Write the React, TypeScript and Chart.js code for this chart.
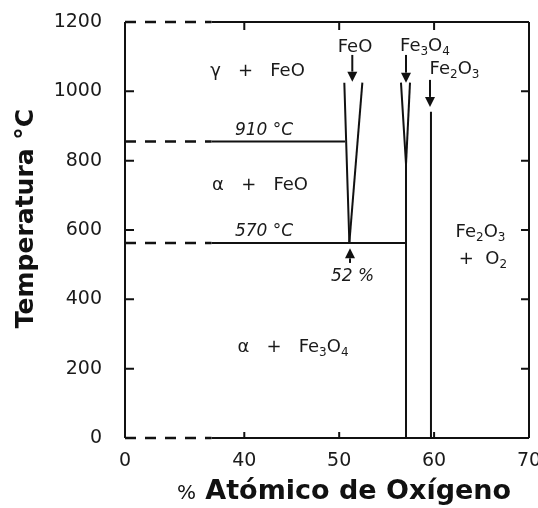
import React, { useEffect, useLayoutEffect, useRef } from "react";
import { Chart, registerables } from "chart.js";

Chart.register(...registerables);

// ---------- axes ----------
const xTickValues = [0, 40, 50, 60, 70];
const xTickLabels = ["0", "40", "50", "60", "70"];
const yTickValues = [0, 200, 400, 600, 800, 1000, 1200];
const xInnerTicks = [40, 50, 60];
const yInnerTicks = [200, 400, 600, 800, 1000];
const X_MAX = 70;
const Y_MAX = 1200;
// broken x axis: 0–40 % is compressed
const BREAK_AT = 40;
const BREAK_AXIS_START = 27.43;
const DASH_END = 29; // end of the dashed (broken) part of the horizontal lines

// ---------- phase boundaries (x: % atómico O, y: °C) ----------
const isothermT = [855, 562.5]; // 910 °C and 570 °C lines as drawn
const isothermEnd = [50.61, 57.04];
const feoLeftX = [50.54, 51.07];
const feoLeftT = [1025, 563];
const feoRightX = [52.44, 51.07];
const feoRightT = [1025, 563];
const fe3o4LeftX = [56.51, 57.04, 57.04];
const fe3o4LeftT = [1025, 790, 0];
const fe3o4RightX = [57.46, 57.04];
const fe3o4RightT = [1025, 790];
const fe2o3X = [59.67, 59.67];
const fe2o3T = [941, 0];

// ---------- annotations ----------
const labelTexts = [
  "γ   +   FeO",
  "α   +   FeO",
  "α   +   Fe_3O_4",
  "910 °C",
  "570 °C",
  "52 %",
  "FeO",
  "Fe_3O_4",
  "Fe_2O_3",
  "Fe_2O_3",
  "+  O_2",
];
const labelX = [41.39, 41.66, 45.13, 42.08, 42.08, 51.4, 51.67, 59.04, 62.15, 64.89, 65.15];
const labelT = [1064, 735.6, 268, 893, 600, 470, 1133.6, 1136.5, 1070, 600, 522];
const labelItalic = [false, false, false, true, true, true, false, false, false, false, false];
const arrowX = [51.38, 57.04, 59.57, 51.14];
const arrowFromT = [1105, 1105, 1033, 505];
const arrowToT = [1028, 1025, 955, 547];

const xTitleUnit = "%";
const xTitleText = " Atómico de Oxígeno";
const yTitleText = "Temperatura °C";

const INK = "#111";
const TXT = "#1a1a1a";
const FONT = '"DejaVu Sans", sans-serif';

const toAxis = (x: number) =>
  x >= BREAK_AT ? x : BREAK_AXIS_START + (x * (BREAK_AT - BREAK_AXIS_START)) / BREAK_AT;

function seg(xs: number[], ts: number[], dashed = false) {
  return {
    data: xs.map((x, i) => ({ x: toAxis(x), y: ts[i] })),
    borderColor: INK,
    borderWidth: dashed ? 2.5 : 2,
    borderDash: dashed ? [11, 9] : [],
    pointRadius: 0,
    fill: false,
    tension: 0,
    clip: false as any,
    showLine: true,
  };
}

function drawRich(ctx: CanvasRenderingContext2D, text: string, cx: number, cy: number, size: number, italic: boolean) {
  const segs: { t: string; sub: boolean }[] = [];
  for (let i = 0; i < text.length; i++) {
    const ch = text[i];
    if (ch === "_" && i + 1 < text.length) {
      segs.push({ t: text[i + 1], sub: true });
      i++;
    } else if (segs.length && !segs[segs.length - 1].sub) {
      segs[segs.length - 1].t += ch;
    } else {
      segs.push({ t: ch, sub: false });
    }
  }
  const st = italic ? "italic " : "";
  const main = `${st}${size}px ${FONT}`;
  const small = `${st}${Math.round(size * 0.68)}px ${FONT}`;
  let total = 0;
  const widths = segs.map((s) => {
    ctx.font = s.sub ? small : main;
    const w = ctx.measureText(s.t).width;
    total += w;
    return w;
  });
  let x = cx - total / 2;
  const base = cy + size * 0.3645;
  ctx.textAlign = "left";
  ctx.textBaseline = "alphabetic";
  segs.forEach((s, i) => {
    ctx.font = s.sub ? small : main;
    ctx.fillText(s.t, x, s.sub ? base + size * 0.22 : base);
    x += widths[i];
  });
}

const decorPlugin = {
  id: "decor",
  afterDatasetsDraw(chart: any) {
    const { ctx, chartArea: a, scales } = chart;
    const xs = scales.x;
    const ys = scales.y;
    ctx.save();
    ctx.strokeStyle = INK;
    ctx.fillStyle = INK;
    ctx.lineWidth = 2;
    // inner tick marks
    yInnerTicks.forEach((v) => {
      const py = ys.getPixelForValue(v);
      ctx.beginPath();
      ctx.moveTo(a.left, py);
      ctx.lineTo(a.left + 9, py);
      ctx.moveTo(a.right, py);
      ctx.lineTo(a.right - 8, py);
      ctx.stroke();
    });
    xInnerTicks.forEach((v) => {
      const px = xs.getPixelForValue(toAxis(v));
      ctx.beginPath();
      ctx.moveTo(px, a.bottom);
      ctx.lineTo(px, a.bottom - 6);
      ctx.moveTo(px, a.top);
      ctx.lineTo(px, a.top + 8);
      ctx.stroke();
    });
    // arrows
    arrowX.forEach((xv, i) => {
      const px = xs.getPixelForValue(toAxis(xv));
      const y0 = ys.getPixelForValue(arrowFromT[i]);
      const y1 = ys.getPixelForValue(arrowToT[i]);
      const dir = Math.sign(y1 - y0);
      const head = 10;
      const hw = 5;
      ctx.beginPath();
      ctx.moveTo(px, y0);
      ctx.lineTo(px, y1 - dir * head);
      ctx.stroke();
      ctx.beginPath();
      ctx.moveTo(px, y1);
      ctx.lineTo(px - hw, y1 - dir * head);
      ctx.lineTo(px + hw, y1 - dir * head);
      ctx.closePath();
      ctx.fill();
    });
    // labels
    ctx.fillStyle = TXT;
    labelTexts.forEach((t, i) => {
      const px = xs.getPixelForValue(toAxis(labelX[i]));
      const py = ys.getPixelForValue(labelT[i]);
      drawRich(ctx, t, px, py, labelItalic[i] ? 17 : 18, labelItalic[i]);
    });
    // axis titles
    ctx.fillStyle = INK;
    const unitFont = `20px ${FONT}`;
    const boldFont = `bold 27px ${FONT}`;
    ctx.font = unitFont;
    const w1 = ctx.measureText(xTitleUnit).width;
    ctx.font = boldFont;
    const w2 = ctx.measureText(xTitleText).width;
    const cx = a.left + 219;
    const base = a.bottom + 61;
    ctx.textAlign = "left";
    ctx.textBaseline = "alphabetic";
    ctx.font = unitFont;
    ctx.fillText(xTitleUnit, cx - (w1 + w2) / 2, base);
    ctx.font = boldFont;
    ctx.fillText(xTitleText, cx - (w1 + w2) / 2 + w1, base);

    ctx.save();
    ctx.translate(a.left - 92, a.top + 196.5);
    ctx.rotate(-Math.PI / 2);
    ctx.font = `bold 25px ${FONT}`;
    ctx.textAlign = "center";
    ctx.textBaseline = "alphabetic";
    ctx.fillText(yTitleText, 0, 0);
    ctx.restore();
    ctx.restore();
  },
};

const zeroPad = (s: any) => {
  s.paddingTop = 0;
  s.paddingBottom = 0;
  s.paddingLeft = 0;
  s.paddingRight = 0;
};

export default function App() {
  const ref = useRef<HTMLCanvasElement>(null);

  useLayoutEffect(() => {
    const prev = document.body.style.margin;
    document.body.style.margin = "0";
    return () => {
      document.body.style.margin = prev;
    };
  }, []);

  useEffect(() => {
    if (!ref.current) return;
    const datasets: any[] = [
      seg([0, 0], [0, Y_MAX]),
      seg([X_MAX, X_MAX], [0, Y_MAX]),
      seg([0, DASH_END], [Y_MAX, Y_MAX], true),
      seg([DASH_END, X_MAX], [Y_MAX, Y_MAX]),
      seg([0, DASH_END], [0, 0], true),
      seg([DASH_END, X_MAX], [0, 0]),
    ];
    isothermT.forEach((t, i) => {
      datasets.push(seg([0, DASH_END], [t, t], true));
      datasets.push(seg([DASH_END, isothermEnd[i]], [t, t]));
    });
    datasets.push(seg(feoLeftX, feoLeftT));
    datasets.push(seg(feoRightX, feoRightT));
    datasets.push(seg(fe3o4LeftX, fe3o4LeftT));
    datasets.push(seg(fe3o4RightX, fe3o4RightT));
    datasets.push(seg(fe2o3X, fe2o3T));

    const chart = new Chart(ref.current, {
      type: "line",
      data: { datasets },
      options: {
        animation: false,
        responsive: false,
        events: [],
        layout: { padding: { top: 14, right: 9, bottom: 0, left: 0 } },
        plugins: { legend: { display: false }, tooltip: { enabled: false }, title: { display: false } },
        scales: {
          x: {
            type: "linear",
            min: toAxis(0),
            max: X_MAX,
            grid: { display: false, drawTicks: false },
            border: { display: false },
            afterBuildTicks: (s: any) => {
              s.ticks = xTickValues.map((v) => ({ value: toAxis(v) }));
            },
            afterFit: (s: any) => {
              s.height = 70;
              zeroPad(s);
            },
            ticks: {
              autoSkip: false,
              maxRotation: 0,
              padding: 12,
              color: TXT,
              font: { family: "DejaVu Sans", size: 19 },
              callback: (_v: any, i: number) => xTickLabels[i],
            },
          },
          y: {
            type: "linear",
            min: 0,
            max: Y_MAX,
            grid: { display: false, drawTicks: false },
            border: { display: false },
            afterBuildTicks: (s: any) => {
              s.ticks = yTickValues.map((v) => ({ value: v }));
            },
            afterFit: (s: any) => {
              s.width = 117;
              zeroPad(s);
            },
            ticks: {
              padding: 23,
              color: TXT,
              font: { family: "DejaVu Sans", size: 19 },
              callback: (v: any) => String(v),
            },
          },
        },
      },
      plugins: [decorPlugin],
    } as any);
    return () => chart.destroy();
  }, []);

  return (
    <div style={{ position: "relative", width: 538, height: 508, overflow: "hidden" }}>
      <canvas
        ref={ref}
        width={530}
        height={500}
        style={{ display: "block", position: "absolute", left: 8, top: 8 }}
      />
    </div>
  );
}
